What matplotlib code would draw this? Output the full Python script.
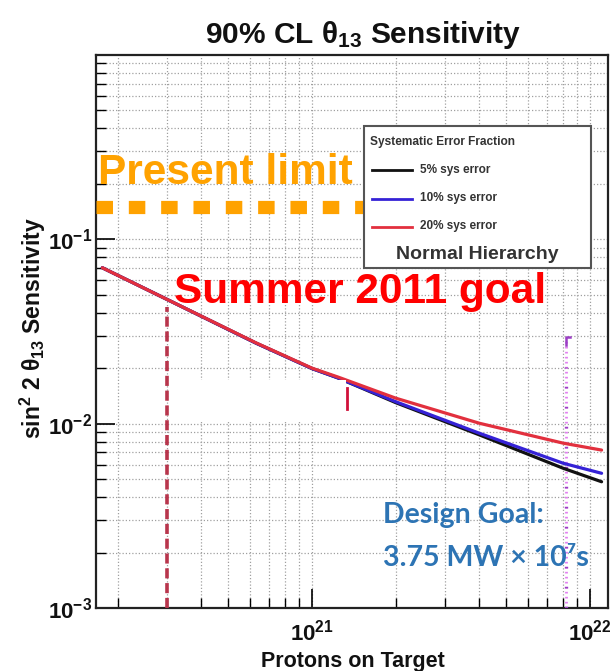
import matplotlib
matplotlib.use("Agg")
import math
import matplotlib.pyplot as plt
from matplotlib.patches import Rectangle
from matplotlib.lines import Line2D
from matplotlib.ticker import LogLocator, FuncFormatter, NullFormatter

plt.rcParams["font.family"] = ["Liberation Sans", "DejaVu Sans"]
plt.rcParams["mathtext.fontset"] = "custom"
plt.rcParams["mathtext.rm"] = "Liberation Sans"
plt.rcParams["mathtext.bf"] = "Liberation Sans:bold"
plt.rcParams["mathtext.it"] = "Liberation Sans:italic"
plt.rcParams["mathtext.default"] = "bf"

# Protons on target and 90% CL sin^2(2 theta13) sensitivity per systematic error
pot = [1.76e20, 3.0e20, 6.3e20, 1.0e21, 1.24e21, 2.0e21, 4.0e21, 8.0e21, 1.1e22]
sens_5pct = [0.0701, 0.0473, 0.0273, 0.0199, 0.0177, 0.0130, 0.00869, 0.00573, 0.00484]
sens_10pct = [0.0701, 0.0473, 0.0273, 0.0199, 0.0177, 0.01315, 0.00887, 0.00610, 0.00538]
sens_20pct = [0.0701, 0.0473, 0.0274, 0.0200, 0.0179, 0.01375, 0.01005, 0.00784, 0.00719]
series_labels = ["5% sys error", "10% sys error", "20% sys error"]
series_colors = ["#111111", "#3522d6", "#e2303e"]

present_limit = 0.15
present_limit_end = 1.55e21
summer_goal_pot = 3.0e20
summer_goal_top = 0.043
design_goal_pot = 8.2e21
design_goal_top = 0.0296

x_ticks = [1e21, 1e22]
y_ticks = [1e-3, 1e-2, 1e-1]

W, H = 612, 671
fig = plt.figure(figsize=(W / 100, H / 100), dpi=100)
fig.patch.set_facecolor("white")


def fx(x):
    return x / W


def fy(y):
    return 1 - y / H


def pow10_label(v, pos):
    return r"$\mathbf{10^{%d}}$" % round(math.log10(v))


ax = fig.add_axes([fx(96), fy(608), fx(608) - fx(96), fy(55) - fy(608)])
ax.set_xscale("log")
ax.set_yscale("log")
ax.set_xlim(1.67e20, 1.16e22)
ax.set_ylim(1e-3, 1.0)

# dotted ROOT-style grid
ax.grid(True, which="both", color="#a0a0a0", linestyle=(0, (1, 1.6)), linewidth=0.9)
ax.set_axisbelow(True)

ax.set_xticks(x_ticks)
ax.xaxis.set_minor_locator(LogLocator(base=10, subs=range(2, 10), numticks=20))
ax.set_yticks(y_ticks)
ax.yaxis.set_minor_locator(LogLocator(base=10, subs=range(2, 10), numticks=20))
ax.xaxis.set_major_formatter(FuncFormatter(pow10_label))
ax.yaxis.set_major_formatter(FuncFormatter(pow10_label))
ax.xaxis.set_minor_formatter(NullFormatter())
ax.yaxis.set_minor_formatter(NullFormatter())
ax.tick_params(which="major", direction="in", length=14, width=1.2, labelsize=16,
               top=False, right=False, labelcolor="#111111")
ax.tick_params(which="minor", direction="in", length=7, width=1.0, top=False, right=False)
ax.tick_params(axis="x", pad=8)
ax.tick_params(axis="y", pad=3)
for s in ax.spines.values():
    s.set_linewidth(1.6)
    s.set_color("#222222")

# sensitivity curves
for vals, col in zip([sens_5pct, sens_10pct, sens_20pct], series_colors):
    ax.plot(pot, vals, color=col, linewidth=2.3, zorder=4, solid_capstyle="round")

# present limit (square dotted orange line)
ax.plot([1.67e20, present_limit_end], [present_limit, present_limit], color="#ffa200",
        linewidth=9.5, linestyle=(0, (1.25, 1.2)), dash_capstyle="butt", zorder=3)

# summer 2011 goal marker
ax.plot([summer_goal_pot, summer_goal_pot], [1e-3, summer_goal_top], color="#b8354c",
        linewidth=2.6, linestyle=(0, (2.8, 1.3)), zorder=3)

# design goal marker
ax.plot([design_goal_pot, design_goal_pot], [1e-3, design_goal_top], color="#e27ff0",
        linewidth=2.0, linestyle=(0, (0.6, 1.2)), zorder=3)
ax.plot([design_goal_pot, design_goal_pot], [1e-3, 0.0204], color="#9b3fc4",
        linewidth=2.4, linestyle=(0, (0.5, 5.5)), zorder=3)
ax.plot([design_goal_pot, design_goal_pot, 8.45e21], [0.0268, design_goal_top, design_goal_top],
        color="#9b3fc4", linewidth=1.8, zorder=3)

# blank box and leftover tick
ax.add_patch(Rectangle((3.1e20, 0.0102), 1.32e21 - 3.1e20, 0.01726 - 0.0102,
                       facecolor="white", edgecolor="none", zorder=5))
ax.plot([1.33e21, 1.33e21], [0.0120, 0.0156], color="#d0103a", linewidth=2.0, zorder=6)

# legend box
leg = Rectangle((fx(364), fy(268)), fx(591) - fx(364), fy(126) - fy(268),
                transform=fig.transFigure, facecolor="white", edgecolor="#555555",
                linewidth=1.5, zorder=10)
fig.patches.append(leg)
fig.text(fx(370), fy(141.5), "Systematic Error Fraction", fontsize=8.6, fontweight="bold",
         color="#333333", ha="left", va="center", zorder=11)
for yy, lab, col in zip([170, 198.5, 226.5], series_labels, series_colors):
    fig.lines.append(Line2D([fx(372.5), fx(411.5)], [fy(yy), fy(yy)], color=col,
                            linewidth=2.0, transform=fig.transFigure, zorder=11))
    fig.text(fx(420), fy(yy), lab, fontsize=8.5, fontweight="bold", color="#333333",
             ha="left", va="center", zorder=11)
fig.text(fx(477), fy(255), "Normal Hierarchy", fontsize=14, fontweight="bold",
         color="#333333", ha="center", va="center", zorder=11)

# annotations
fig.text(fx(98), fy(183.5), "Present limit", fontsize=30.5, fontweight="bold",
         color="#ffa200", ha="left", va="baseline", zorder=12)
fig.text(fx(174), fy(303.5), "Summer 2011 goal", fontsize=30.5, fontweight="bold",
         color="#ff0000", ha="left", va="baseline", zorder=12)
fig.text(fx(383), fy(523.5), "Design Goal:", fontsize=20.5, fontweight="bold",
         color="#2d74b4", ha="left", va="baseline", family=["Lato", "DejaVu Sans"], zorder=12)
fig.text(fx(383), fy(566), "3.75 MW × 10⁷s", fontsize=20.5, fontweight="bold",
         color="#2d74b4", ha="left", va="baseline", family=["Lato", "DejaVu Sans"], zorder=12)

# titles
fig.text(fx(363), fy(43), r"90% CL $\mathregular{\theta_{13}}$ Sensitivity", fontsize=21.5,
         fontweight="bold", color="#111111", ha="center", va="baseline")
fig.text(fx(353), fy(667), "Protons on Target", fontsize=15.5, fontweight="bold",
         color="#111111", ha="center", va="baseline")
fig.text(fx(33), fy(328), r"sin$^{2}$ 2 $\mathregular{\theta_{13}}$ Sensitivity", fontsize=16.5,
         fontweight="bold", color="#111111", ha="center", va="center", rotation=90)

fig.savefig("out.png", dpi=100, facecolor="white")
